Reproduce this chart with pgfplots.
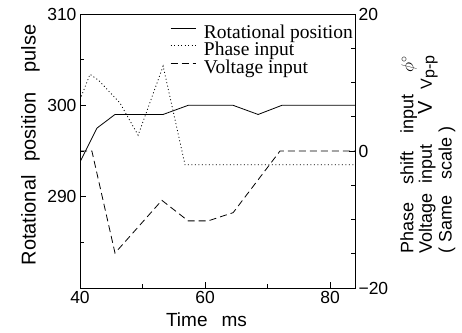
\documentclass[border=0pt]{standalone}
\usepackage{pgfplots}
\pgfplotsset{compat=1.18}
\usepackage{fontspec}
\setmainfont{Liberation Sans}
\newfontfamily\seriffont{Liberation Serif}

\begin{document}
\begin{tikzpicture}
\path[use as bounding box] (0,0) rectangle (462pt,332pt);
\pgfplotsset{
  common/.style={
    scale only axis, width=275pt, height=274pt,
    at={(80pt,44pt)}, anchor=south west,
    xmin=40, xmax=84,
    tick align=inside,
    major tick length=6pt, minor tick length=4pt,
    every tick/.style={black, line width=0.7pt},
    axis line style={line width=0.8pt},
    tick label style={font=\fontsize{17.5}{17.5}\selectfont},
    /pgf/number format/assume math mode=true,
  }
}
\begin{axis}[common,
  ymin=280, ymax=310,
  xtick={40,60,80}, minor xtick={50,70},
  ytick={290,300,310}, minor ytick={285,295,305},
  xtick pos=lower, ytick pos=left,
  xlabel={Time\hspace{14pt}ms},
  xlabel style={font=\fontsize{19}{19}\selectfont, at={(axis description cs:0.46,-0.142)}, anchor=base, inner sep=0pt},
  ylabel={Rotational\hspace{14pt}position\hspace{20pt}pulse},
  ylabel style={font=\fontsize{20}{20}\selectfont, at={(axis description cs:-0.215,0.522)}, anchor=north, inner sep=0pt},
]
\addplot[black, line width=0.8pt] coordinates {
(40,293.8) (42.7,297.5) (45.6,299) (53.3,299) (57.3,300) (64.5,300) (68.5,299) (72.3,300) (84,300)
};
\end{axis}
\begin{axis}[common,
  ymin=-20, ymax=20,
  hide x axis, ytick pos=right,
  ytick={-20,0,20}, yticklabels={−20,0,20},
  minor ytick={-15,-10,-5,5,10,15},
  ylabel={Phase\hspace{18pt}shift\hspace{18pt}input\hspace{22pt}\(\phi^{\circ}\)\\Voltage\hspace{10pt}input\hspace{30pt}{\fontsize{20}{20}\selectfont V}\hspace{12pt}{\fontsize{16}{16}\selectfont V\raisebox{-2.5pt}{p-p}}\\(\hspace{5pt}Same\hspace{16pt}scale\hspace{5pt})},
  ylabel style={font=\fontsize{18}{18.5}\selectfont, align=left, at={(axis description cs:1.164,0.125)}, anchor=north west, inner sep=0pt},
  legend cell align=left,
  legend image code/.code={\draw[#1] (0pt,5pt) -- (25pt,5pt);},
  legend style={at={(axis description cs:0.993,0.9635)}, anchor=north east, draw=none, fill=none,
    font=\seriffont\fontsize{19.5}{19.5}\selectfont, row sep=0pt, column sep=8pt, inner sep=0pt,
    nodes={inner sep=0pt, text height=14pt, text depth=3.8pt}},
]
\addlegendimage{black, line width=0.8pt}
\addlegendentry{Rotational position}
\addplot[black, line width=0.8pt, dash pattern=on 1pt off 2.5pt] coordinates {
(40,7.5) (41.6,11.2) (43,10.3) (46.4,7.0) (49.3,2.3) (53.3,12.4) (56.8,-2) (84,-2)
};
\addlegendentry{Phase input}
\addplot[black, line width=0.8pt, dash pattern=on 7pt off 4pt] coordinates {
(40,0) (41.9,0) (45.6,-14.9) (53.1,-7.2) (57.3,-10.2) (60.5,-10.2) (64.5,-9.0) (72,0) (84,0)
};
\addlegendentry{Voltage input}
\end{axis}
\end{tikzpicture}
\end{document}
